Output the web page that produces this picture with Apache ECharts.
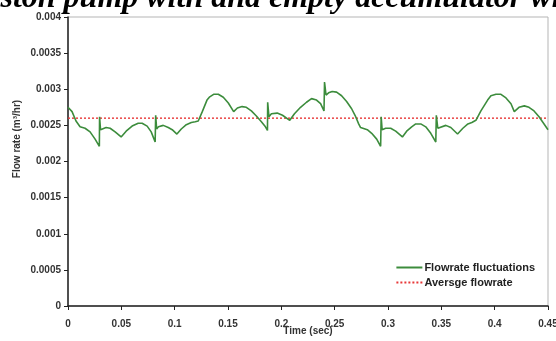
<!DOCTYPE html>
<html><head><meta charset="utf-8">
<script src="https://cdn.jsdelivr.net/npm/echarts@6/dist/echarts.min.js"></script>
<style>html,body{margin:0;padding:0;background:#fff}#c{width:556px;height:341px}</style>
</head><body><div id="c"></div>
<script>
// Time (sec) and flow rate (m3/hr)
var timeSec = [0,0.0038,0.0075,0.0113,0.016,0.0207,0.0254,0.0294,
 0.0296,0.0305,0.0319,0.0357,0.0395,0.0442,0.0498,
 0.0545,0.0601,0.0658,0.0695,0.0742,0.078,0.0817,
 0.0822,0.0831,0.0848,0.0893,0.094,0.0977,0.1021,
 0.1062,0.1109,0.1156,0.1193,0.1221,0.1259,0.1303,0.1325,
 0.1365,0.1409,0.1456,0.1503,0.1553,
 0.1588,0.1632,0.1672,0.1719,0.1766,0.1813,0.1851,0.187,
 0.1872,0.1884,0.1907,0.1961,0.2011,0.2079,
 0.2123,0.218,0.2236,0.2283,0.233,0.2368,0.24,
 0.2405,0.2419,0.2443,0.2477,0.2518,0.2565,0.2612,0.2659,0.2697,
 0.2725,0.2743,0.2806,0.2847,0.2894,0.2931,
 0.2936,0.2945,0.2978,0.3025,0.3072,0.3135,
 0.3175,0.3222,0.326,0.3307,0.3354,0.3401,0.3448,
 0.3453,0.3467,0.3481,0.3542,0.3589,0.3652,
 0.3702,0.3749,0.3786,0.3824,0.3871,0.3934,0.3965,
 0.4012,0.4059,0.4106,0.4153,0.4184,
 0.4228,0.4278,0.4322,0.4369,0.4416,0.4463,0.45];
var flowRate = [0.00275,0.00269,0.00256,0.00248,0.00246,0.00241,0.00231,0.00221,
 0.00262,0.00244,0.00246,0.00247,0.00246,0.00241,0.00234,
 0.00242,0.00249,0.00253,0.00253,0.00249,0.00241,0.00227,
 0.00264,0.00245,0.00248,0.0025,0.00247,0.00244,0.00238,
 0.00245,0.00251,0.00254,0.00255,0.00256,0.00269,0.00285,0.00289,
 0.00293,0.00293,0.00289,0.00281,0.00269,
 0.00274,0.00276,0.00275,0.0027,0.00263,0.00255,0.00248,0.00243,
 0.00282,0.00262,0.00266,0.00267,0.00264,0.00257,
 0.00266,0.00275,0.00282,0.00287,0.00285,0.0028,0.0027,
 0.0031,0.00292,0.00295,0.00297,0.00296,0.00291,0.00283,0.00273,0.00262,
 0.00252,0.00247,0.00244,0.00239,0.00231,0.00221,
 0.00262,0.00244,0.00246,0.00246,0.00242,0.00234,
 0.00242,0.00248,0.00252,0.00252,0.00248,0.00239,0.00227,
 0.00264,0.00246,0.00247,0.0025,0.00247,0.00238,
 0.00246,0.00252,0.00254,0.00257,0.0027,0.00285,0.00291,
 0.00293,0.00293,0.00288,0.0028,0.00269,
 0.00275,0.00277,0.00275,0.0027,0.00262,0.00252,0.00244];
var averageFlow = 0.0026;
var timeRange = [0, 0.45];
var seriesNames = ['Flowrate fluctuations', 'Aversge flowrate'];
var titleText = 'Piston pump with and empty accumulator wh';
var xAxisName = 'Time (sec)';
var yAxisName = 'Flow rate (m\u00b3/hr)';

var fluct = timeSec.map(function(t,i){return [t, flowRate[i]];});
var avg = timeRange.map(function(t){return [t, averageFlow];});
var lbl = {fontFamily:'Liberation Sans, Arial', fontWeight:'bold', fontSize:10, color:'#333'};
var chart = echarts.init(document.getElementById('c'), null, {renderer:'canvas'});
chart.setOption({
  animation:false,
  backgroundColor:'#fff',
  grid:{left:68, right:8, top:17, bottom:35, show:true, borderColor:'#b5b5b5', borderWidth:1,
    containLabel:false, outerBoundsMode:'none'},
  graphic:[
    {type:'text', left:-28, top:-17, style:{text:titleText, font:'italic bold 32px "Liberation Serif"', fill:'#000'}},
    {type:'text', x:17, y:139, rotation:Math.PI/2, style:{text:yAxisName, font:'bold 10px "Liberation Sans"', fill:'#333', textAlign:'center', textVerticalAlign:'middle'}}
  ],
  legend:{orient:'vertical', right:16, top:257, itemWidth:26, itemHeight:8, itemGap:4,
    itemStyle:{opacity:0},
    textStyle:{fontFamily:'Liberation Sans, Arial', fontWeight:'bold', fontSize:11, color:'#222', padding:[0,0,0,-3]},
    data:seriesNames},
  xAxis:{type:'value', min:0, max:0.45, interval:0.05,
    name:xAxisName, nameLocation:'middle', nameGap:20, nameMoveOverlap:false,
    nameTextStyle:{fontFamily:'Liberation Sans, Arial', fontWeight:'bold', fontSize:10, color:'#333'},
    axisLine:{lineStyle:{color:'#222', width:1.5}},
    axisTick:{inside:false, length:4, lineStyle:{color:'#222'}},
    axisLabel:Object.assign({margin:13, formatter:function(v){return String(+v.toFixed(2));}}, lbl),
    splitLine:{show:false}},
  yAxis:{type:'value', min:0, max:0.004, interval:0.0005,
    axisLine:{show:true, lineStyle:{color:'#222', width:1.5}},
    axisTick:{show:true, length:4, lineStyle:{color:'#222'}},
    axisLabel:Object.assign({margin:7, formatter:function(v){return String(+v.toFixed(4));}}, lbl),
    splitLine:{show:false}},
  series:[
    {name:seriesNames[0], type:'line', data:fluct, symbol:'none', showSymbol:false,
      lineStyle:{color:'#3c8c3c', width:1.6}, itemStyle:{color:'#3c8c3c'}, z:3},
    {name:seriesNames[1], type:'line', data:avg, symbol:'none', showSymbol:false,
      lineStyle:{color:'#e83838', width:1.4, type:[2,2]}, itemStyle:{color:'#e83838'}, z:2}
  ]
});
</script></body></html>
